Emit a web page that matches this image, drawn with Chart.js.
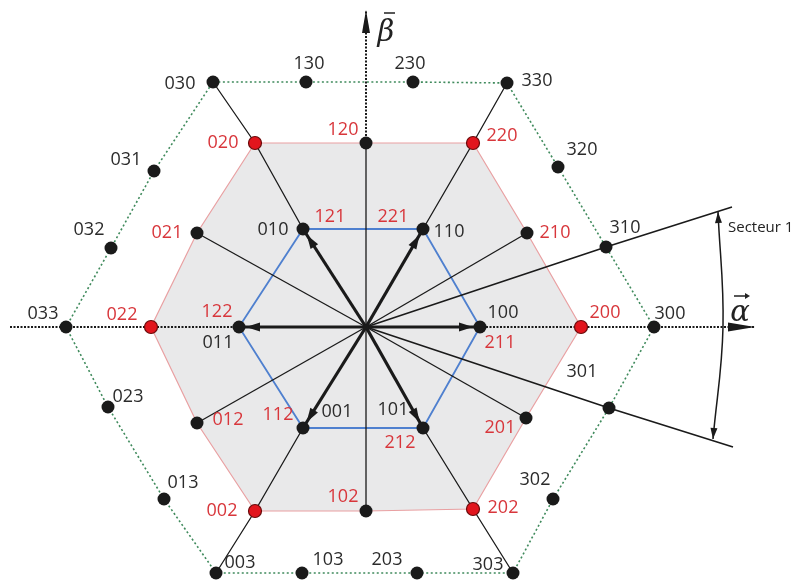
<!DOCTYPE html>
<html>
<head>
<meta charset="utf-8">
<script src="https://cdn.jsdelivr.net/npm/chart.js@4.4.0/dist/chart.umd.min.js"></script>
<style>
  html, body { margin: 0; padding: 0; background: #fff; }
  #wrap { width: 811px; height: 586px; }
</style>
</head>
<body>
<div id="wrap"><canvas id="c" width="811" height="586"></canvas></div>
<script>
/* ==========================================================================
   Diagramme vectoriel — onduleur 4 niveaux, plan (alpha, beta)
   coordonnees (origine au centre, unite ~ 1 px)
   ========================================================================== */

// niveau 3 : hexagone exterieur
const outerCodes = ['300','310','320','330','230','130','030','031','032','033','023','013','003','103','203','303','302','301'];
const outerX = [288, 240, 192, 141,  47, -60, -153, -212, -255, -300, -258, -202, -150,  -64,   51,  147,  187,  243];
const outerY = [  0,  80, 160, 244, 245, 245,  245,  156,   79,    0,  -80, -172, -246, -246, -246, -246, -172,  -81];

// niveau 2 : hexagone du milieu (sommets en rouge)
const midCodes = ['200','210','220','120','020','021','022','012','002','102','202','201'];
const midX = [215, 161, 107,   0, -111, -169, -215, -169, -111,    0,  107,  160];
const midY = [  0,  94, 184, 184,  184,   94,    0,  -96, -184, -184, -182,  -91];
const midRed = ['200','220','020','022','002','202'];

// niveau 1 : hexagone interieur (deux etats redondants par sommet)
const innerCodes    = ['100','110','010','011','001','101'];
const innerCodesAlt = ['211','221','121','122','112','212'];
const innerX = [114,  57, -63, -127,  -63,   57];
const innerY = [  0,  98,  98,    0, -101, -101];

// limites du secteur 1 et fleche d'arc
const sectorEndX = [366, 367];
const sectorEndY = [120, -120];
const arcX = [352, 357, 347];
const arcY = [115,   0, -112];

// axes
const alphaAxis = [-356, 389];
const betaAxis  = [184, 317];

/* --------------------- decalage des etiquettes (px) --------------------- */
const labelNudge = {
  '300': [16,-13], '310': [19,-19], '320': [24,-17], '330': [30,-2], '230': [-3,-18], '130': [3,-18],
  '030': [-33,2], '031': [-28,-11], '032': [-22,-18], '033': [-23,-13], '023': [20,-10], '013': [19,-16],
  '003': [24,-10], '103': [26,-13], '203': [-30,-13], '303': [-25,-8], '302': [-18,-19], '301': [-27,-36],
  '200': [24,-14], '210': [28,0], '220': [29,-7], '120': [-23,-13], '020': [-32,0], '021': [-30,0],
  '022': [-29,-12], '012': [31,-3], '002': [-33,0], '102': [-23,-14], '202': [30,-1], '201': [-26,10],
  '100': [23,-14], '211': [20,16], '110': [26,3], '221': [-30,-12], '010': [-30,1], '121': [27,-12],
  '011': [-21,16], '122': [-22,-15], '001': [34,-16], '112': [-25,-13], '101': [-30,-18], '212': [-23,15]
};

const BLACK = '#1a1a1a';
const RED = '#d8363b';

const xy = (xs, ys) => xs.map((x, i) => ({ x, y: ys[i] }));
const at = (codes, xs, ys, c) => { const i = codes.indexOf(c); return { x: xs[i], y: ys[i] }; };
const O = { x: 0, y: 0 };

function lineDs(data, opt) {
  return Object.assign({
    data, showLine: true, pointRadius: 0, borderColor: BLACK, borderWidth: 1.3,
    backgroundColor: 'transparent', fill: false, tension: 0, order: 5
  }, opt || {});
}

/* --------------------- datasets --------------------- */
const outerPts = xy(outerX, outerY);
const midPts = xy(midX, midY);
const innerPts = xy(innerX, innerY);

const datasets = [];

// surface grise du niveau 2
datasets.push(lineDs([...midPts, midPts[0]], {
  borderColor: '#e9a0a2', borderWidth: 1.2, backgroundColor: '#e9e9ea', fill: 'shape', order: 20
}));

// hexagone exterieur pointille vert
datasets.push(lineDs([...outerPts, outerPts[0]], {
  borderColor: '#3f8a5c', borderWidth: 1.6, borderDash: [2, 2.5], order: 15
}));

// hexagone interieur bleu
datasets.push(lineDs([...innerPts, innerPts[0]], {
  borderColor: '#4f80cf', borderWidth: 1.8, order: 14
}));

// rayons passant par les sommets
const spokes = [
  ['121','020','030'], ['221','220','330'], ['112','002','003'], ['212','202','303']
];
spokes.forEach(s => {
  datasets.push(lineDs([O, at(innerCodesAlt, innerX, innerY, s[0]), at(midCodes, midX, midY, s[1]), at(outerCodes, outerX, outerY, s[2])]));
});
['021','210','201','012','120','102'].forEach(c => {
  datasets.push(lineDs([O, at(midCodes, midX, midY, c)]));
});

// limites du secteur 1
datasets.push(lineDs([O, at(outerCodes, outerX, outerY, '310'), { x: sectorEndX[0], y: sectorEndY[0] }], { borderWidth: 1.6 }));
datasets.push(lineDs([O, at(outerCodes, outerX, outerY, '301'), { x: sectorEndX[1], y: sectorEndY[1] }], { borderWidth: 1.6 }));

// fleche d'arc "Secteur 1"
datasets.push(lineDs(xy(arcX, arcY), { borderWidth: 1.5, tension: 0.4, head: { len: 11, wid: 7, back: 0, both: true } }));

// axes alpha / beta
datasets.push(lineDs([{ x: alphaAxis[0], y: 0 }, { x: alphaAxis[1], y: 0 }], {
  borderWidth: 2, borderDash: [2, 1.5], order: 6, head: { len: 27, wid: 9, back: 0 }
}));
datasets.push(lineDs([{ x: 0, y: betaAxis[0] }, { x: 0, y: betaAxis[1] }], {
  borderWidth: 2, borderDash: [2, 1.5], order: 6, head: { len: 23, wid: 8, back: 0 }
}));

// vecteurs du niveau 1 (fleches epaisses)
innerPts.forEach(p => {
  datasets.push(lineDs([O, p], { borderWidth: 3.2, order: 3, head: { len: 14, wid: 9, back: 7 } }));
});

// points
const allPts = [...outerPts, ...midPts, ...innerPts, O];
const allCodes = [...outerCodes, ...midCodes, ...innerCodes, ''];
datasets.push({
  data: allPts,
  showLine: false,
  order: 0,
  pointRadius: allCodes.map(c => c === '' ? 3 : 6.5),
  pointBackgroundColor: allCodes.map(c => midRed.includes(c) ? '#e2151d' : BLACK),
  pointBorderColor: allCodes.map(c => midRed.includes(c) ? '#6a0a0a' : BLACK),
  pointBorderWidth: allCodes.map(c => midRed.includes(c) ? 1.2 : 0)
});

/* --------------------- plugins --------------------- */
const arrowHeads = {
  id: 'arrowHeads',
  afterDatasetDraw(chart, args) {
    const ds = chart.data.datasets[args.index];
    if (!ds.head) return;
    const pts = args.meta.data;
    const ctx = chart.ctx;
    const h = ds.head;
    const draw = (a, b) => {
      const ang = Math.atan2(b.y - a.y, b.x - a.x);
      const c = Math.cos(ang), s = Math.sin(ang);
      const tx = b.x - c * h.back, ty = b.y - s * h.back;
      const W = h.wid / 2;
      ctx.save();
      ctx.fillStyle = ds.borderColor;
      ctx.beginPath();
      ctx.moveTo(tx, ty);
      ctx.lineTo(tx - h.len * c + W * s, ty - h.len * s - W * c);
      ctx.lineTo(tx - h.len * c - W * s, ty - h.len * s + W * c);
      ctx.closePath();
      ctx.fill();
      ctx.restore();
    };
    const n = pts.length;
    draw(pts[n - 2], pts[n - 1]);
    if (h.both) draw(pts[1], pts[0]);
  }
};

const codeLabels = {
  id: 'codeLabels',
  afterDatasetsDraw(chart) {
    const ctx = chart.ctx;
    const sx = chart.scales.x, sy = chart.scales.y;
    const put = (code, x, y, color) => {
      const d = labelNudge[code] || [0, 0];
      ctx.fillStyle = color;
      ctx.fillText(code, sx.getPixelForValue(x) + d[0], sy.getPixelForValue(y) + d[1]);
    };
    ctx.save();
    ctx.font = "18px 'Open Sans'";
    ctx.textAlign = 'center';
    ctx.textBaseline = 'middle';
    outerCodes.forEach((c, i) => put(c, outerX[i], outerY[i], '#2b2b2b'));
    midCodes.forEach((c, i) => put(c, midX[i], midY[i], RED));
    innerCodes.forEach((c, i) => put(c, innerX[i], innerY[i], '#2b2b2b'));
    innerCodesAlt.forEach((c, i) => put(c, innerX[i], innerY[i], RED));

    // noms des axes
    ctx.fillStyle = '#222';
    ctx.font = "italic 29px 'DejaVu Serif'";
    const bx = sx.getPixelForValue(0) + 20, by = sy.getPixelForValue(betaAxis[1]) + 23;
    ctx.fillText('β', bx, by);
    const ax = sx.getPixelForValue(alphaAxis[1]) - 15, ay = sy.getPixelForValue(0) - 14;
    ctx.fillText('α', ax, ay);
    ctx.strokeStyle = '#222';
    ctx.lineWidth = 1.3;
    ctx.beginPath();
    ctx.moveTo(bx - 2, by - 20); ctx.lineTo(bx + 9, by - 20);
    ctx.moveTo(ax - 6, ay - 17); ctx.lineTo(ax + 8, ay - 17);
    ctx.stroke();
    ctx.beginPath();
    ctx.moveTo(ax + 10, ay - 17); ctx.lineTo(ax + 5, ay - 20); ctx.lineTo(ax + 5, ay - 14);
    ctx.closePath(); ctx.fillStyle = '#222'; ctx.fill();

    ctx.font = "15px 'Open Sans'";
    ctx.textAlign = 'left';
    ctx.fillStyle = '#222';
    ctx.fillText('Secteur 1', sx.getPixelForValue(arcX[0]) + 10, sy.getPixelForValue(sectorEndY[0]) + 21);
    ctx.restore();
  }
};

new Chart(document.getElementById('c'), {
  type: 'scatter',
  data: { datasets },
  options: {
    responsive: false,
    devicePixelRatio: 1,
    animation: false,
    layout: { padding: 0, autoPadding: false },
    scales: {
      x: { type: 'linear', min: -366, max: 445, display: false },
      y: { type: 'linear', min: -259, max: 327, display: false }
    },
    plugins: { legend: { display: false }, tooltip: { enabled: false } }
  },
  plugins: [arrowHeads, codeLabels]
});
</script>
</body>
</html>
